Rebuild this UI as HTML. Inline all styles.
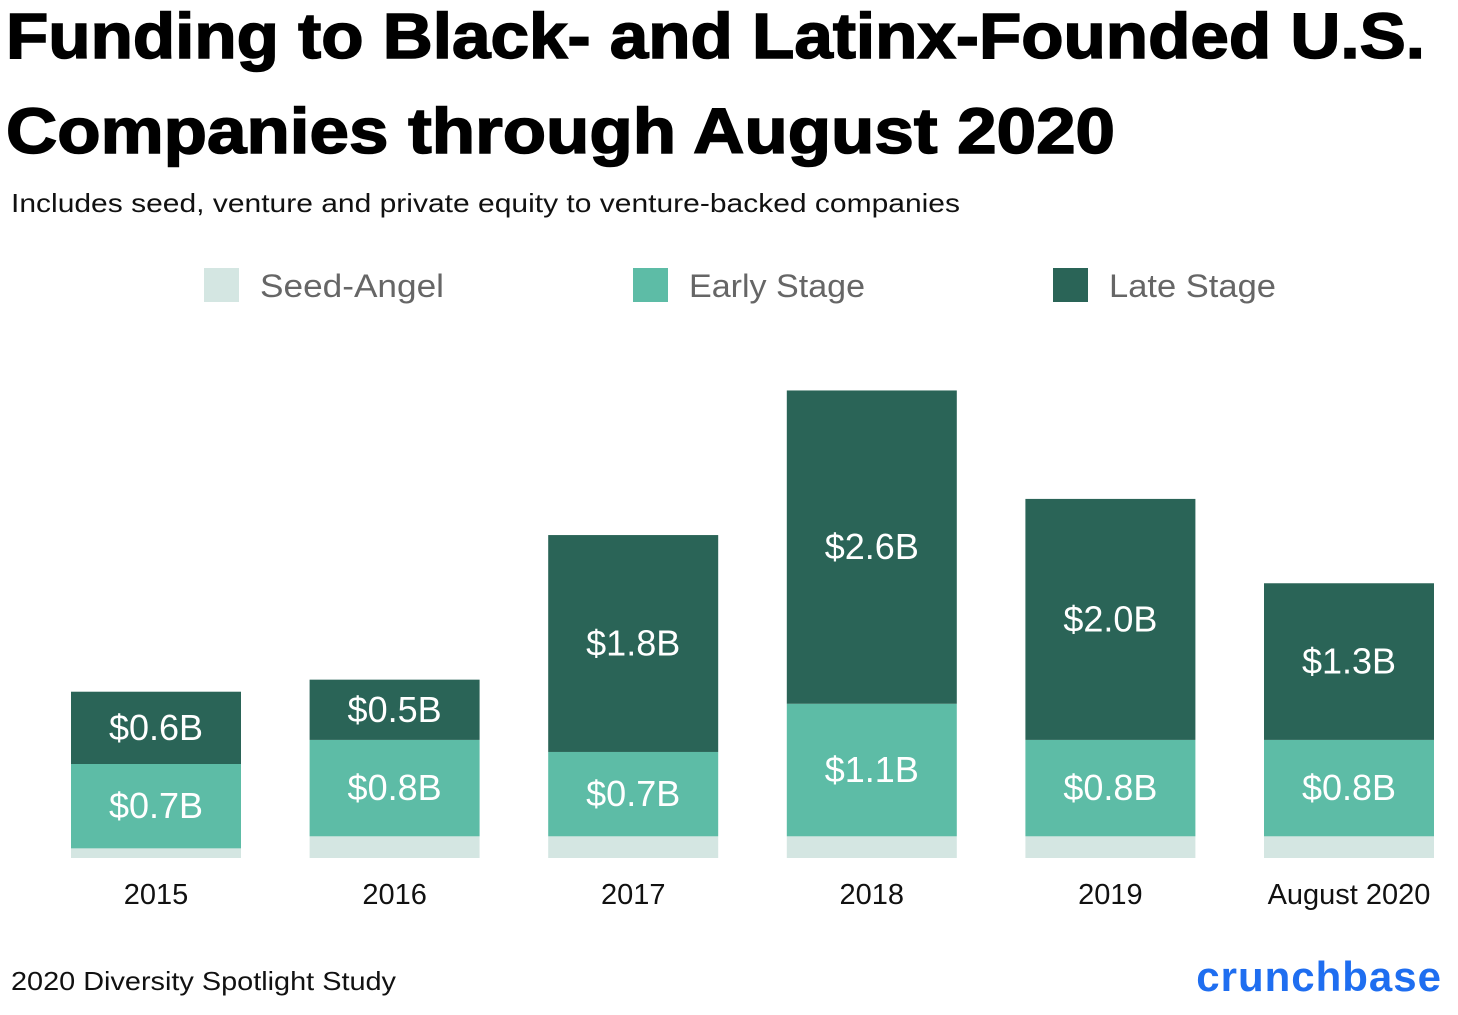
<!DOCTYPE html>
<html><head><meta charset="utf-8"><style>
body{margin:0;background:#fff;width:1458px;height:1010px;overflow:hidden;font-family:"Liberation Sans",sans-serif}
</style></head><body>
<svg width="1458" height="1010">
<text x="6" y="58" font-size="64" font-weight="900" font-family="Liberation Sans" textLength="1419" lengthAdjust="spacingAndGlyphs" stroke="#000" stroke-width="1.5">Funding to Black- and Latinx-Founded U.S.</text>
<text x="6" y="153" font-size="64" font-weight="900" font-family="Liberation Sans" textLength="1109" lengthAdjust="spacingAndGlyphs" stroke="#000" stroke-width="1.5">Companies through August 2020</text>
<text x="11" y="212" font-size="26" fill="#111" textLength="949" lengthAdjust="spacingAndGlyphs">Includes seed, venture and private equity to venture-backed companies</text>
<g>
<rect x="204" y="268" width="35" height="34" fill="#d4e6e2"/>
<text x="260" y="297" font-size="32" fill="#666" textLength="184" lengthAdjust="spacingAndGlyphs">Seed-Angel</text>
<rect x="633" y="268" width="35" height="34" fill="#5dbca6"/>
<text x="689" y="297" font-size="32" fill="#666" textLength="176" lengthAdjust="spacingAndGlyphs">Early Stage</text>
<rect x="1053" y="268" width="35" height="34" fill="#2a6457"/>
<text x="1109" y="297" font-size="32" fill="#666" textLength="167" lengthAdjust="spacingAndGlyphs">Late Stage</text>
</g>
<g id="bars"></g>
<text x="11" y="990" font-size="26" fill="#111" textLength="385" lengthAdjust="spacingAndGlyphs">2020 Diversity Spotlight Study</text>
<text x="1442" y="991" font-size="42" font-weight="bold" fill="#1f6ef0" text-anchor="end" letter-spacing="1">crunchbase</text>
</svg>
<script>
const categories=["2015","2016","2017","2018","2019","August 2020"];
const seedValues=[0.08,0.18,0.18,0.18,0.18,0.18];
const earlyValues=[0.7,0.8,0.7,1.1,0.8,0.8];
const lateValues=[0.6,0.5,1.8,2.6,2.0,1.3];
const earlyLabels=["$0.7B","$0.8B","$0.7B","$1.1B","$0.8B","$0.8B"];
const lateLabels=["$0.6B","$0.5B","$1.8B","$2.6B","$2.0B","$1.3B"];
const base=858,pxPerB=120.5,x0=71,step=238.6,bw=170;
const y=v=>base-v*pxPerB;
const xs=i=>x0+i*step;
const g=document.getElementById('bars');
const NS="http://www.w3.org/2000/svg";
function rect(x,yy,h,fill,name){const r=document.createElementNS(NS,'rect');r.setAttribute('x',x);r.setAttribute('y',yy);r.setAttribute('width',bw);r.setAttribute('height',h);r.setAttribute('fill',fill);


g.appendChild(r);}
function txt(x,yy,s,fill,size,name){const t=document.createElementNS(NS,'text');t.setAttribute('x',x);t.setAttribute('y',yy);t.setAttribute('fill',fill);t.setAttribute('font-size',size);t.setAttribute('text-anchor','middle');t.textContent=s;


g.appendChild(t);}
categories.forEach((c,i)=>{
 const x=xs(i),cx=x+bw/2;
 const s0=0,s1=seedValues[i],e1=s1+earlyValues[i],l1=e1+lateValues[i];
 rect(x,y(s1),y(s0)-y(s1),'#d4e6e2','bar-seed-'+i);
 rect(x,y(e1),y(s1)-y(e1),'#5dbca6','bar-early-'+i);
 rect(x,y(l1),y(e1)-y(l1),'#2a6457','bar-late-'+i);
 txt(cx,(y(s1)+y(e1))/2+12,earlyLabels[i],'#fff',36,'label-early-'+i);
 txt(cx,(y(e1)+y(l1))/2+12,lateLabels[i],'#fff',36,'label-late-'+i);
 txt(cx,904,c,'#111',29,'x-label-'+i);
});
</script>
</body></html>
